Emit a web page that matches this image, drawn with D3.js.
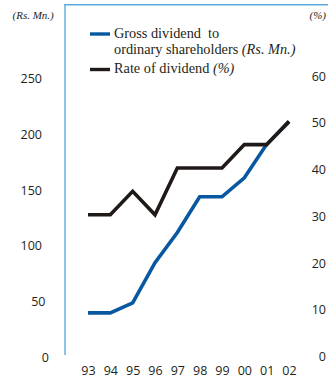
<!DOCTYPE html>
<html>
<head>
<meta charset="utf-8">
<script src="https://cdn.jsdelivr.net/npm/d3@7/dist/d3.min.js"></script>
<style>
  html, body { margin: 0; padding: 0; background: #fff; }
  svg { display: block; }
  .tick text { font-family: "Open Sans", sans-serif; font-size: 12.5px; fill: #231f20; }
  .serif { font-family: "Liberation Serif", "Times New Roman", serif; fill: #231f20; }
</style>
</head>
<body>
<svg id="chart" width="336" height="383"></svg>
<script>
// Financial years (1993 – 2002)
const years = ["93", "94", "95", "96", "97", "98", "99", "00", "01", "02"];
// Gross dividend to ordinary shareholders, Rs. Mn. (left axis)
const grossDividend = [40, 40, 49, 85, 112, 144, 144, 161, 191, 211];
// Rate of dividend, % (right axis)
const dividendRate = [30, 30, 35, 30, 40, 40, 40, 45, 45, 50];
// Axis ticks
const leftTicks = [0, 50, 100, 150, 200, 250];
const rightTicks = [0, 10, 20, 30, 40, 50, 60];

const svg = d3.select("#chart");
const frameColor = "#5aaae0";
const blue = "#0758a0";
const black = "#1f1a17";

const x = d3.scalePoint().domain(years).range([88, 289]);
const yLeft = d3.scaleLinear().domain([0, 250]).range([357.5, 78.5]);
const yRight = d3.scaleLinear().domain([0, 60]).range([355, 74.5]);

// Frame: left rule and top rule
svg.append("line")
  .attr("x1", 65).attr("x2", 65).attr("y1", 4).attr("y2", 355)
  .attr("stroke", frameColor).attr("stroke-width", 1.4);
svg.append("line")
  .attr("x1", 64.3).attr("x2", 328).attr("y1", 4.7).attr("y2", 4.7)
  .attr("stroke", frameColor).attr("stroke-width", 1.4);

// Left axis (Rs. Mn.)
const gl = svg.append("g").attr("transform", "translate(42,0)")
  .call(d3.axisLeft(yLeft).tickValues(leftTicks).tickSize(0).tickPadding(0));
gl.select(".domain").remove();
gl.selectAll(".tick text").attr("dx", d => (3 - String(d).length) * 3.5);

// Right axis (%)
const gr = svg.append("g").attr("transform", "translate(326,0)")
  .call(d3.axisLeft(yRight).tickValues(rightTicks).tickSize(0).tickPadding(0));
gr.select(".domain").remove();
gr.selectAll(".tick text").attr("dy", "0.45em");

// Year axis
const gx = svg.append("g").attr("transform", "translate(0,366)")
  .call(d3.axisBottom(x).tickSize(0).tickPadding(0));
gx.select(".domain").remove();

// Unit captions
svg.append("text").attr("class", "serif")
  .attr("x", 12.5).attr("y", 19).attr("font-size", 11).attr("font-style", "italic")
  .text("(Rs. Mn.)");
svg.append("text").attr("class", "serif")
  .attr("x", 326).attr("y", 19).attr("font-size", 11).attr("font-style", "italic")
  .attr("text-anchor", "end")
  .text("(%)");

// Series lines
const lineLeft = d3.line().x((d, i) => x(years[i])).y(d => yLeft(d));
const lineRight = d3.line().x((d, i) => x(years[i])).y(d => yRight(d));

svg.append("path").datum(grossDividend)
  .attr("d", lineLeft).attr("fill", "none")
  .attr("stroke", blue).attr("stroke-width", 3.6).attr("stroke-linejoin", "miter");
svg.append("path").datum(dividendRate)
  .attr("d", lineRight).attr("fill", "none")
  .attr("stroke", black).attr("stroke-width", 3.6).attr("stroke-linejoin", "miter");

// Legend
const legend = svg.append("g");
legend.append("line").attr("x1", 90).attr("x2", 110).attr("y1", 34).attr("y2", 34)
  .attr("stroke", blue).attr("stroke-width", 3.4);
legend.append("line").attr("x1", 90).attr("x2", 110).attr("y1", 69.5).attr("y2", 69.5)
  .attr("stroke", black).attr("stroke-width", 3.4);

const fs = 14.3;
const t1 = legend.append("text").attr("class", "serif").attr("font-size", fs)
  .attr("x", 114).attr("y", 38);
t1.append("tspan").text("Gross dividend  to").style("white-space", "pre");
const t2 = legend.append("text").attr("class", "serif").attr("font-size", fs)
  .attr("x", 114).attr("y", 53.5);
t2.append("tspan").text("ordinary shareholders ");
t2.append("tspan").attr("font-style", "italic").text("(Rs. Mn.)");
const t3 = legend.append("text").attr("class", "serif").attr("font-size", fs)
  .attr("x", 114).attr("y", 73);
t3.append("tspan").text("Rate of dividend ");
t3.append("tspan").attr("font-style", "italic").text("(%)");
</script>
</body>
</html>
